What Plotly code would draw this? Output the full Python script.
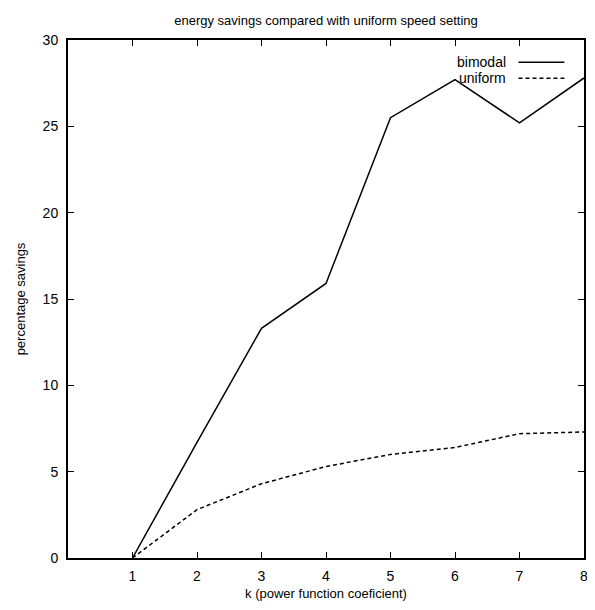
import plotly.graph_objects as go

k_values = [1, 2, 3, 4, 5, 6, 7, 8]
bimodal = [0.0, 6.7, 13.3, 15.9, 25.5, 27.7, 25.2, 27.8]
uniform = [0.0, 2.8, 4.3, 5.3, 6.0, 6.4, 7.2, 7.3]
x_ticks = [1, 2, 3, 4, 5, 6, 7, 8]
y_ticks = [0, 5, 10, 15, 20, 25, 30]
legend_names = ["bimodal", "uniform"]

FONT = "Liberation Sans, Arial, Helvetica, sans-serif"

fig = go.Figure()
fig.add_trace(go.Scatter(x=k_values, y=bimodal, mode="lines", name=legend_names[0],
                         line=dict(color="black", width=1.5, dash="solid")))
fig.add_trace(go.Scatter(x=k_values, y=uniform, mode="lines", name=legend_names[1],
                         line=dict(color="black", width=1.5, dash="4px,3px")))

axis_common = dict(showgrid=False, zeroline=False, showline=True, linecolor="black",
                   linewidth=2, mirror="ticks", ticks="inside", ticklen=6,
                   tickcolor="black", tickwidth=1.3,
                   tickfont=dict(family=FONT, size=14, color="black"))

fig.update_xaxes(range=[0, 8], tickvals=x_ticks, ticktext=[str(v) for v in x_ticks],
                 ticklabelstandoff=4,
                 title=dict(text="k (power function coeficient)", standoff=6,
                            font=dict(family=FONT, size=13, color="black")),
                 **axis_common)
fig.update_yaxes(range=[0, 30], tickvals=y_ticks, ticktext=[str(v) for v in y_ticks],
                 ticklabelstandoff=5,
                 title=dict(text="percentage savings", standoff=14,
                            font=dict(family=FONT, size=13, color="black")),
                 **axis_common)

# gnuplot-style key: text right-aligned, sample line to its right
legend_y = [0.957, 0.926]
for i, name in enumerate(legend_names):
    fig.add_annotation(xref="paper", yref="paper", x=0.852, y=legend_y[i], text=name,
                       showarrow=False, xanchor="right", yanchor="middle",
                       font=dict(family=FONT, size=14, color="black"))
    fig.add_shape(type="line", xref="paper", yref="paper", x0=0.873, x1=0.962,
                  y0=legend_y[i], y1=legend_y[i],
                  line=dict(color="black", width=1.5,
                            dash="solid" if i == 0 else "4px,3px"))

fig.update_layout(
    width=587, height=602,
    margin=dict(l=60, r=7, t=32, b=52),
    paper_bgcolor="white", plot_bgcolor="white",
    showlegend=False,
    title=dict(text="energy savings compared with uniform speed setting",
               x=0.5, xref="paper", y=0.98, yanchor="middle",
               font=dict(family=FONT, size=13, color="black")),
    font=dict(family=FONT, color="black"),
)

fig.write_html("out.html")
